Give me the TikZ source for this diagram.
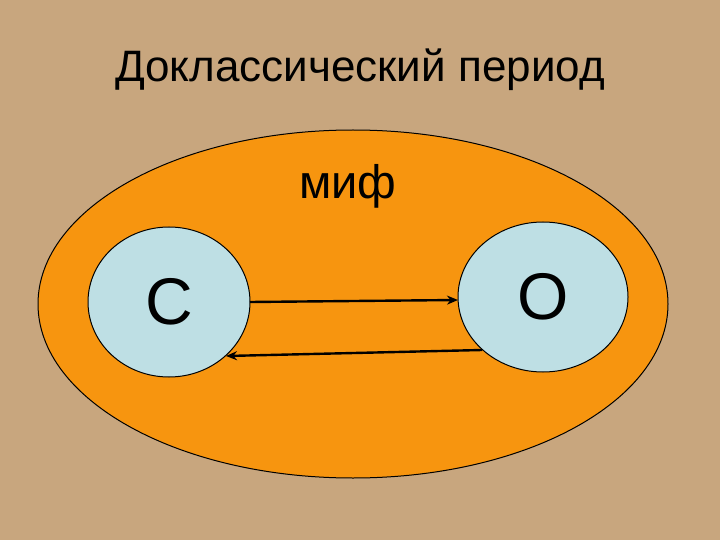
\documentclass[tikz,border=0pt]{standalone}
\usepackage{fontspec}
\setmainfont{Liberation Sans}
\usetikzlibrary{arrows.meta}
\definecolor{bg}{HTML}{C8A67E}
\definecolor{orng}{HTML}{F7950F}
\definecolor{lblue}{HTML}{BEDFE4}
\tikzset{
  circ/.style={draw=black, fill=lblue, ellipse, line width=1pt},
  conn/.style={line width=2.4pt, -{Stealth[length=11pt,width=9pt]}}
}
\usetikzlibrary{shapes.geometric}
\begin{document}
\begin{tikzpicture}[x=1pt,y=-1pt]
\fill[bg] (0,0) rectangle (720,540);
\useasboundingbox (0,0) rectangle (720,540);
\node (title) at (360,70) {\fontsize{44}{50}\selectfont Доклассический период};
\draw[fill=orng, line width=1pt] (353,304) ellipse [x radius=315, y radius=174];
\node (myth) at (348,186) {\fontsize{47}{52}\selectfont миф};
\node[circ, minimum width=162pt, minimum height=150pt, inner sep=0pt] (c) at (169,302) {};
\node at (c) {\fontsize{66}{70}\selectfont С};
\node[circ, minimum width=170pt, minimum height=150pt, inner sep=0pt] (o) at (543,297) {};
\node at (o) {\fontsize{66}{70}\selectfont О};
\coordinate (a1) at (250,302);
\coordinate (a2) at (458,300);
\coordinate (b1) at (482,350);
\coordinate (b2) at (226,356);
\draw[conn] (a1) -- (a2);
\draw[conn] (b1) -- (b2);
\end{tikzpicture}
\end{document}
